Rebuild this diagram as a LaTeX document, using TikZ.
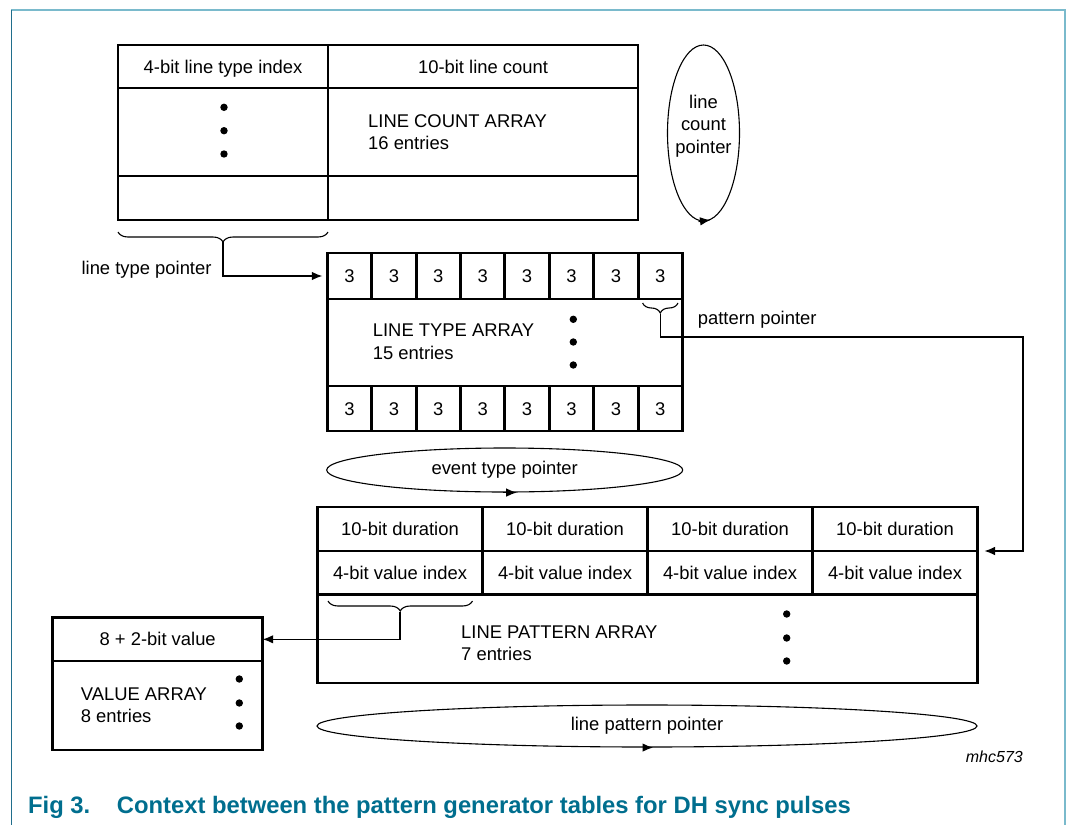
\documentclass[tikz,border=0pt]{standalone}
\usepackage{fontspec}
\setmainfont{Liberation Sans}
\usetikzlibrary{arrows.meta,positioning,shapes.geometric,decorations.pathreplacing}
\definecolor{capteal}{RGB}{0,110,142}
\definecolor{framedark}{RGB}{32,110,140}
\definecolor{framelight}{RGB}{122,186,204}

\begin{document}
\begin{tikzpicture}[x=1pt,y=-1pt,>={Latex[length=10.5pt,width=8.5pt]},
  every node/.style={font=\fontsize{18.4}{22.3}\selectfont},
  cell/.style={draw,line width=2.9pt,outer sep=0pt,inner sep=0pt,text height=13pt,text depth=0pt},
  txt/.style={inner sep=0pt,text height=13pt,text depth=4pt},
  ptr/.style={draw,ellipse,line width=1.1pt,inner sep=0pt,text height=13pt,text depth=4pt},
  conn/.style={->,line width=1.1pt},
  brc/.style={decorate,decoration={brace,mirror,amplitude=10pt},line width=1.1pt},
  lbl/.style={align=left,inner sep=0pt}]
  \useasboundingbox (0,0) rectangle (1066,825);
  \draw[framelight,line width=2pt] (11,9.5) -- (1065,9.5) -- (1065,825);
  \draw[framedark,line width=1.5pt] (11.7,9.5) -- (11.7,825);

  \node[cell,minimum width=210pt,minimum height=43pt] (lcidx) at (223,66.5) {4-bit line type index};
  \node[cell,minimum width=310pt,minimum height=43pt,right=0pt of lcidx] (lccnt) {10-bit line count};
  \node[cell,minimum width=210pt,minimum height=88pt,below=0pt of lcidx] (lcdots) {};
  \node[cell,minimum width=310pt,minimum height=88pt,below=0pt of lccnt] (lcbody) {};
  \node[cell,minimum width=210pt,minimum height=44pt,below=0pt of lcdots] (lclasti) {};
  \node[cell,minimum width=310pt,minimum height=44pt,below=0pt of lcbody] (lclastc) {};
  \node[lbl,anchor=west] (lcname) at (368,132.3) {LINE COUNT ARRAY\\16 entries};
  \foreach \y in {107.3,130.7,154} \fill (224,\y) circle (3.7pt);

  \node[ptr,minimum width=72pt,minimum height=176pt] (lcptr) at (703.5,133) {};
  \node[align=center,inner sep=0pt] (lcptrtxt) at ([yshift=7pt]lcptr.center) {line\\count\\pointer};
  \draw[conn] ([xshift=-5pt]lcptr.south) -- ([xshift=7pt,yshift=1.5pt]lcptr.south);

  \node[cell,minimum width=44.4pt,minimum height=46pt] (lt1) at (349.5,276) {3};
  \foreach \i [count=\j from 2] in {1,...,7}
    \node[cell,minimum width=44.4pt,minimum height=46pt,right=0pt of lt\i] (lt\j) {3};
  \node[cell,minimum width=355.2pt,minimum height=87pt,anchor=north west] (ltbody) at (lt1.south west) {};
  \node[cell,minimum width=44.4pt,minimum height=45pt,anchor=north west] (lb1) at (ltbody.south west) {3};
  \foreach \i [count=\j from 2] in {1,...,7}
    \node[cell,minimum width=44.4pt,minimum height=45pt,right=0pt of lb\i] (lb\j) {3};
  \node[lbl,anchor=west] (ltname) at (372.7,341.9) {LINE TYPE ARRAY\\15 entries};
  \foreach \y in {319.3,342,365} \fill (573.3,\y) circle (3.7pt);

  \draw[brc] ([yshift=-12pt]lclasti.south west) -- ([yshift=-12pt]lclasti.south east);
  \coordinate (ltptr) at ([yshift=-22pt]lclasti.south);
  \draw[conn,shorten >=5pt] (ltptr) |- (lt1.west);
  \node[txt,anchor=east] (ltlbl) at (211.7,270) {line type pointer};

  \draw[brc] ([xshift=4.5pt,yshift=-4pt]lt8.south west) -- ([xshift=-4.5pt,yshift=-4pt]lt8.south east);
  \coordinate (patptr) at ([yshift=-15pt]lt8.south);
  \coordinate (patturn) at (1023,337);
  \node[txt,anchor=west] (patlbl) at (697.7,320) {pattern pointer};

  \node[ptr,minimum width=356pt,minimum height=44pt] (etptr) at (504.7,470) {event type pointer};
  \draw[conn] ([xshift=-2pt]etptr.south) -- ([xshift=12pt]etptr.south);

  \node[cell,minimum width=165pt,minimum height=44pt] (lpd1) at (400,529) {10-bit duration};
  \foreach \i [count=\j from 2] in {1,...,3}
    \node[cell,minimum width=165pt,minimum height=44pt,right=0pt of lpd\i] (lpd\j) {10-bit duration};
  \node[cell,minimum width=165pt,minimum height=43.5pt,below=0pt of lpd1] (lpv1) {4-bit value index};
  \foreach \i [count=\j from 2] in {1,...,3}
    \node[cell,minimum width=165pt,minimum height=43.5pt,right=0pt of lpv\i] (lpv\j) {4-bit value index};
  \node[cell,minimum width=660pt,minimum height=88.5pt,anchor=north west] (lpbody) at (lpv1.south west) {};
  \node[lbl,anchor=west] (lpname) at (461,643) {LINE PATTERN ARRAY\\7 entries};
  \foreach \y in {614,638,661} \fill (786.7,\y) circle (3.7pt);
  \draw[conn,shorten >=7pt] (patptr) |- (patturn) |- (lpd4.south east);

  \node[cell,minimum width=210pt,minimum height=43.3pt] (vahead) at (157.7,639.3) {8 + 2-bit value};
  \node[cell,minimum width=210pt,minimum height=89pt,below=0pt of vahead] (vabody) {};
  \node[lbl,anchor=west] (vaname) at (80.7,705.3) {VALUE ARRAY\\8 entries};
  \foreach \y in {679,703,726} \fill (239.3,\y) circle (3.7pt);

  \draw[brc] ([xshift=10.5pt,yshift=-6.5pt]lpv1.south west) -- ([xshift=-10pt,yshift=-6.5pt]lpv1.south east);
  \coordinate (valptr) at ([yshift=-17pt]lpv1.south);
  \draw[conn] (valptr) |- (vahead.east);

  \node[ptr,minimum width=660pt,minimum height=42pt] (lpptr) at (647,726) {line pattern pointer};
  \draw[conn] ([xshift=-4pt]lpptr.south) -- ([xshift=6pt]lpptr.south);

  \node[anchor=east,inner sep=0pt,font=\fontsize{16}{19}\selectfont\itshape] (figid) at (1023,757) {mhc573};
  \node[anchor=west,inner sep=0pt,text=capteal,font=\fontsize{23.8}{28}\selectfont\bfseries] (caption) at (28,807)
    {Fig 3.\hspace*{26.5pt}Context between the pattern generator tables for DH sync pulses};
\end{tikzpicture}
\end{document}
